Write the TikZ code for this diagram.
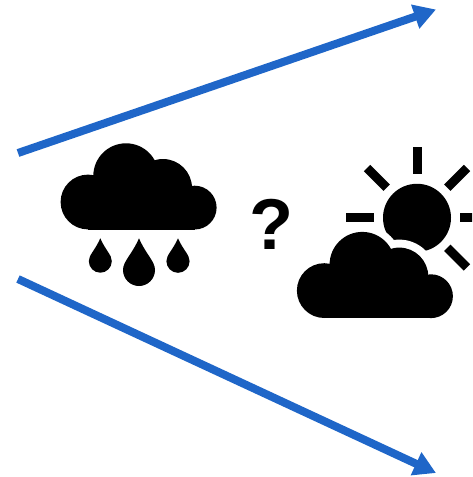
\documentclass[tikz,border=0pt]{standalone}
\usepackage{fontspec}
\setmainfont{Liberation Sans}
\usetikzlibrary{arrows.meta}
\definecolor{arrowblue}{HTML}{1F66C8}
\tikzset{
  bluearrow/.style={draw=arrowblue,line width=8pt,-{Triangle[length=22pt,width=24pt,fill=arrowblue]}},
  ray/.style={draw=black,line width=9pt,line cap=butt},
  icon/.style={fill=black,draw=none},
  qmark/.style={font=\bfseries\fontsize{72}{72}\selectfont,inner sep=0pt,text=black}
}
\newcommand{\cloudshape}[1]{%
  \path[#1] (88,202) circle[radius=27.4];
  \path[#1] (126,176) circle[radius=32.7];
  \path[#1] (163,188) circle[radius=29];
  \path[#1] (194.7,207.6) circle[radius=21.9];
  \path[#1] (88,190) rectangle (194.7,229.5);
}
\newcommand{\dropshape}[3]{%
  \path[icon] (#1,238.3) .. controls ({#1-0.45*#3},{#2-0.95*#3}) and ({#1-#3},{#2-0.55*#3}) .. ({#1-#3},#2)
    arc[start angle=180,end angle=0,radius=#3]
    .. controls ({#1+#3},{#2-0.55*#3}) and ({#1+0.45*#3},{#2-0.95*#3}) .. (#1,238.3) -- cycle;
}
\begin{document}
\begin{tikzpicture}[x=1pt,y=-1pt]
\useasboundingbox (0,0) rectangle (472,477);
\clip (0,0) rectangle (472,477);
% arrows
\coordinate (a1s) at (18,153);
\coordinate (a1e) at (436,9.5);
\coordinate (a2s) at (18,279);
\coordinate (a2e) at (436,473);
\draw[bluearrow] (a1s) -- (a1e);
\draw[bluearrow] (a2s) -- (a2e);
% rain cloud
\cloudshape{icon}
\dropshape{100.3}{261.2}{11.5}
\dropshape{139}{270}{16}
\dropshape{178}{261.2}{11.6}
% question mark
\node[qmark,anchor=center] (q) at (271.5,224.5) {?};
% sun
\fill[black] (417,217.8) circle[radius=34];
\draw[ray] (417,147.3) -- (417,174.3);
\draw[ray] (346.3,217.8) -- (374,217.8);
\draw[ray] (460,217.8) -- (480,217.8);
\draw[ray] (367,168) -- (386.7,187.7);
\draw[ray] (467,168) -- (447.3,187.7);
\draw[ray] (447.3,247.7) -- (467,267.4);
% sunny cloud, with white halo
\begin{scope}[shift={(236.3,88.6)}]
  \fill[white] (126,176) circle[radius=40];
  \fill[white] (163,188) circle[radius=37];
  \cloudshape{icon}
\end{scope}
\end{tikzpicture}
\end{document}
